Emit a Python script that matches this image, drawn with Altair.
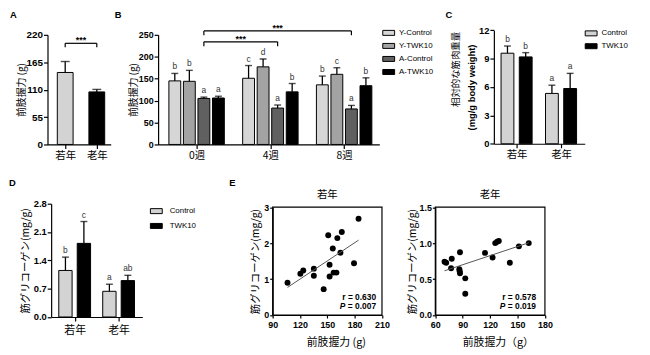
import altair as alt
import pandas as pd

W, H = 642, 347
NUM = "Liberation Sans"
CJK = "Noto Sans CJK JP"

# ---------------- data ----------------
a_groups = ["若年", "老年"]
a_mean = [144.5, 105.5]
a_sd = [22.0, 5.0]
a_colors = ["#d3d3d3", "#000000"]
a_sig_label = "***"
a_sig_y = 203
a_sig_drop = 8

b_weeks = ["0週", "4週", "8週"]
b_series = ["Y-Control", "Y-TWK10", "A-Control", "A-TWK10"]
b_colors = ["#d6d6d6", "#a3a3a3", "#606060", "#000000"]
b_mean = {
    "Y-Control": [145, 151, 136],
    "Y-TWK10": [144, 177, 160],
    "A-Control": [105, 83, 81],
    "A-TWK10": [106, 120, 134],
}
b_sd = {
    "Y-Control": [17, 29, 20],
    "Y-TWK10": [25, 18, 15],
    "A-Control": [3, 7, 8],
    "A-TWK10": [4, 19, 18],
}
b_letters = {
    "Y-Control": ["b", "c", "b"],
    "Y-TWK10": ["b", "d", "c"],
    "A-Control": ["a", "a", "a"],
    "A-TWK10": ["a", "b", "b"],
}
b_sig_series = "A-Control"
b_sig_from = ["0週", "0週"]
b_sig_to = ["4週", "8週"]
b_sig_y = [234, 259]
b_sig_drop = 10

c_groups = ["若年", "老年"]
c_series = ["Control", "TWK10"]
c_colors = ["#d3d3d3", "#000000"]
c_mean = {"Control": [9.57, 5.32], "TWK10": [9.18, 5.84]}
c_sd = {"Control": [0.76, 0.87], "TWK10": [0.45, 1.60]}
c_letters = {"Control": ["b", "a"], "TWK10": ["b", "a"]}

d_groups = ["若年", "老年"]
d_series = ["Control", "TWK10"]
d_colors = ["#d3d3d3", "#000000"]
d_mean = {"Control": [1.15, 0.635], "TWK10": [1.82, 0.90]}
d_sd = {"Control": [0.33, 0.175], "TWK10": [0.54, 0.13]}
d_letters = {"Control": ["b", "a"], "TWK10": ["c", "ab"]}

e_titles = ["若年", "老年"]
e_young_grip = [106.3, 120.4, 123.6, 135.2, 135.2, 146.0, 151.0, 152.5, 152.5,
                156.0, 156.9, 160.0, 161.0, 164.4, 165.9, 179.3, 184.3]
e_young_gly = [0.90, 1.15, 1.24, 1.29, 1.09, 0.72, 2.22, 1.40, 1.07,
               1.85, 1.18, 1.18, 2.14, 1.73, 2.31, 1.44, 2.68]
e_old_grip = [70.1, 71.9, 78.0, 77.3, 87.0, 86.3, 87.0, 86.7, 92.8, 92.8,
              114.4, 122.7, 125.6, 127.7, 129.5, 141.6, 151.5, 162.3]
e_old_gly = [0.741, 0.727, 0.782, 0.65, 0.873, 0.636, 0.58, 0.61, 0.51, 0.295,
             0.864, 0.80, 1.00, 1.018, 1.03, 0.727, 0.955, 1.00]
e_r = ["0.630", "0.578"]
e_p = ["0.007", "0.019"]


# ---------------- helpers ----------------
def y_axis(x_px, values, fmt, title, pad, fs=10, tfs=10, tfont=CJK, tweight="normal"):
    return alt.Axis(orient="left", offset=-x_px, values=values, format=fmt, title=title,
                    grid=False, domainColor="black", domainWidth=1.2, tickColor="black",
                    tickWidth=1.2, tickSize=4, labelColor="black", labelFont=NUM,
                    labelFontWeight="bold", labelFontSize=fs, labelPadding=1,
                    titleFont=tfont, titleFontWeight=tweight, titleFontSize=tfs,
                    titleColor="black", titlePadding=pad, minExtent=0, maxExtent=0)


def x_axis_cat(y_px, labels, fs=10.5, lpad=2):
    expr = "[" + ",".join("'" + l + "'" for l in labels) + "][round(datum.value)]"
    return alt.Axis(orient="bottom", offset=-(H - y_px), values=list(range(len(labels))),
                    labelExpr=expr, title=None, grid=False, domainColor="black",
                    domainWidth=1.2, tickColor="black", tickWidth=1.2, tickSize=4,
                    labelColor="black", labelFont=CJK, labelFontSize=fs, labelAngle=0,
                    labelPadding=lpad, labelFlush=False)


def lin(domain, rng):
    return alt.Scale(domain=domain, range=rng, nice=False, zero=False, padding=0)


def bar_frame(groups, series, means, sds, letters, step):
    rows = []
    n = len(series)
    for j, s in enumerate(series):
        for i, g in enumerate(groups):
            m = means[s][i]
            rows.append(dict(group=g, series=s, pos=i + (j - (n - 1) / 2) * step,
                             mean=m, top=m + sds[s][i], letter=letters[s][i]))
    return pd.DataFrame(rows)


def bar_panel(df, xs, ys, xax, yax, size, cap, fill, lfs=8.5):
    x = alt.X("pos:Q", scale=xs, axis=None)
    bars = alt.Chart(df).mark_bar(size=size, stroke="black", strokeWidth=1,
                                  orient="vertical").encode(
        x=alt.X("pos:Q", scale=xs, axis=xax),
        y=alt.Y("mean:Q", scale=ys, axis=yax),
        fill=fill)
    err = alt.Chart(df).mark_rule(color="black", strokeWidth=1.3).encode(
        x=x, y=alt.Y("mean:Q", scale=ys, axis=None), y2="top:Q")
    caps = alt.Chart(df).mark_tick(orient="horizontal", size=cap, thickness=1.4,
                                   color="black").encode(
        x=x, y=alt.Y("top:Q", scale=ys, axis=None))
    layers = [bars, err, caps]
    if "letter" in df.columns:
        txt = alt.Chart(df).mark_text(baseline="bottom", dy=-2, fontSize=lfs, font=NUM,
                                      color="#333333").encode(
            x=x, y=alt.Y("top:Q", scale=ys, axis=None), text="letter:N")
        layers.append(txt)
    return layers


def bracket(sig, xs, ys, fs=9):
    x = alt.X("x1:Q", scale=xs, axis=None)
    h = alt.Chart(sig).mark_rule(color="black", strokeWidth=1.2).encode(
        x=x, x2="x2:Q", y=alt.Y("y:Q", scale=ys, axis=None))
    l = alt.Chart(sig).mark_rule(color="black", strokeWidth=1.2).encode(
        x=x, y=alt.Y("y:Q", scale=ys, axis=None), y2="yd:Q")
    r = alt.Chart(sig).mark_rule(color="black", strokeWidth=1.2).encode(
        x=alt.X("x2:Q", scale=xs, axis=None), y=alt.Y("y:Q", scale=ys, axis=None), y2="yd:Q")
    t = alt.Chart(sig).mark_text(baseline="alphabetic", dy=0, fontSize=fs, font=NUM,
                                 fontWeight="bold", color="black").encode(
        x=alt.X("xm:Q", scale=xs, axis=None), y=alt.Y("y:Q", scale=ys, axis=None),
        text="label:N")
    return [h, l, r, t]


RECT = "M-1,-0.42H1V0.42H-1Z"


def legend(lx, ly, rowpad, loff=4, fs=8):
    return alt.Legend(orient="none", legendX=lx, legendY=ly, title=None, symbolType=RECT,
                      symbolSize=144, symbolStrokeColor="black", symbolStrokeWidth=1,
                      labelFont=NUM, labelFontSize=fs, labelColor="black",
                      rowPadding=rowpad, labelOffset=loff, padding=0)


# ---------------- Panel A ----------------
a_df = pd.DataFrame(dict(group=a_groups, pos=list(range(len(a_groups))), mean=a_mean,
                         top=[m + s for m, s in zip(a_mean, a_sd)]))
axs = lin([-0.56, 1.44], [40, 104])
ays = lin([0, 220], [136, 25])
a_layers = bar_panel(
    a_df, axs, ays, x_axis_cat(136, a_groups),
    y_axis(40, [0, 55, 110, 165, 220], "d", "前肢握力 (g)", 21, fs=10),
    16, 9, alt.Fill("group:N", scale=alt.Scale(domain=a_groups, range=a_colors), legend=None))
a_sig = pd.DataFrame(dict(x1=[0], x2=[1], xm=[0.5], y=[a_sig_y], yd=[a_sig_y - a_sig_drop],
                          label=[a_sig_label]))
panelA = a_layers + bracket(a_sig, axs, ays)

# ---------------- Panel B ----------------
b_step = 0.197
b_df = bar_frame(b_weeks, b_series, b_mean, b_sd, b_letters, b_step)
bxs = lin([-0.522, 2.477], [152, 376])
bys = lin([0, 250], [136, 25])
b_layers = bar_panel(
    b_df, bxs, bys, x_axis_cat(136, b_weeks),
    y_axis(152, [0, 50, 100, 150, 200, 250], "d", "前肢握力 (g)", 20, fs=9),
    12, 7, alt.Fill("series:N", scale=alt.Scale(domain=b_series, range=b_colors),
                    legend=legend(379, 16.5, 1.2)))
jA = b_series.index(b_sig_series)
off = (jA - (len(b_series) - 1) / 2) * b_step
x1 = [b_weeks.index(w) + off for w in b_sig_from]
x2 = [b_weeks.index(w) + off for w in b_sig_to]
b_sig = pd.DataFrame(dict(x1=x1, x2=x2, xm=[(a + b) / 2 for a, b in zip(x1, x2)],
                          y=b_sig_y, yd=[v - b_sig_drop for v in b_sig_y],
                          label=["***", "***"]))
panelB = b_layers + bracket(b_sig, bxs, bys)

# ---------------- Panel C ----------------
c_df = bar_frame(c_groups, c_series, c_mean, c_sd, c_letters, 0.41)
cxs = lin([-0.511, 1.533], [492, 584])
cys = lin([0, 12], [135.3, 20.3])
c_layers = bar_panel(
    c_df, cxs, cys, x_axis_cat(135.3, c_groups),
    y_axis(492, [0, 3, 6, 9, 12], "d", "(mg/g body weight)", 18, fs=9.5, tfs=9.5,
           tfont=NUM, tweight="bold"),
    13, 7, alt.Fill("series:N", scale=alt.Scale(domain=c_series, range=c_colors),
                    legend=legend(584, 17, 1.0)))
c_title1 = alt.Chart(pd.DataFrame({"t": ["相対的な筋肉重量"]})).mark_text(
    angle=270, font=CJK, fontSize=9.5, color="black", align="center", baseline="middle").encode(
    x=alt.value(454), y=alt.value(60), text="t:N")
panelC = c_layers + [c_title1]

# ---------------- Panel D ----------------
d_df = bar_frame(d_groups, d_series, d_mean, d_sd, d_letters, 0.42)
dxs = lin([-0.535, 1.539], [43.7, 136])
dys = lin([0, 2.8], [310.7, 196])
panelD = bar_panel(
    d_df, dxs, dys, x_axis_cat(310.7, d_groups, fs=11, lpad=4),
    y_axis(43.7, [0, 0.7, 1.4, 2.1, 2.8], ".1f", "筋グリコーゲン(mg/g)", 21, fs=9.5, tfs=10.5),
    13.5, 7, alt.Fill("series:N", scale=alt.Scale(domain=d_series, range=d_colors),
                      legend=legend(143.7, 197, 3.0, loff=7)))


# ---------------- Panel E ----------------
def scatter(grip, gly, xdom, xr, ydom, yr, xticks, yticks, yfmt, title, xtitle, title_x,
            ypad, r, p, stat_x):
    df = pd.DataFrame(dict(grip=grip, gly=gly))
    xs = lin(xdom, xr)
    ys = lin(ydom, yr)
    xax = alt.Axis(orient="bottom", offset=-(H - yr[0]), values=xticks, title=xtitle,
                   grid=False, domainColor="black", domainWidth=1.2, tickColor="black",
                   tickWidth=1.2, tickSize=3, labelColor="black", labelFont=NUM,
                   labelFontWeight="bold", labelFontSize=9, labelPadding=3,
                   labelFlush=False, titleFont=CJK, titleFontWeight="normal",
                   titleFontSize=11, titleColor="black", titlePadding=22, titleX=title_x,
                   minExtent=0, maxExtent=0)
    yax = alt.Axis(orient="left", offset=-xr[0], values=yticks, format=yfmt,
                   title="筋グリコーゲン(mg/g)",
                   grid=False, domainColor="black", domainWidth=1.2, tickColor="black",
                   tickWidth=1.2, tickSize=3, labelColor="black", labelFont=NUM,
                   labelFontWeight="bold", labelFontSize=9, labelPadding=1,
                   titleFont=CJK, titleFontWeight="normal", titleFontSize=10.5,
                   titleColor="black", titlePadding=ypad, minExtent=0, maxExtent=0)
    frame_df = pd.DataFrame(dict(x0=[xdom[0]], x1=[xdom[1]], y0=[ydom[0]], y1=[ydom[1]]))
    frame = alt.Chart(frame_df).mark_rect(fill=None, stroke="black", strokeWidth=1.2).encode(
        x=alt.X("x0:Q", scale=xs, axis=None), x2="x1:Q",
        y=alt.Y("y0:Q", scale=ys, axis=None), y2="y1:Q")
    pts = alt.Chart(df).mark_circle(size=36, color="black", opacity=1).encode(
        x=alt.X("grip:Q", scale=xs, axis=xax), y=alt.Y("gly:Q", scale=ys, axis=yax))
    fit = alt.Chart(df).transform_regression("grip", "gly").mark_line(
        color="#555555", strokeWidth=1).encode(
        x=alt.X("grip:Q", scale=xs, axis=None), y=alt.Y("gly:Q", scale=ys, axis=None))
    tdf = pd.DataFrame(dict(t=[title], x=[(xdom[0] + xdom[1]) / 2], y=[ydom[1]]))
    ttl = alt.Chart(tdf).mark_text(font=CJK, fontSize=10.5, color="black", baseline="middle",
                                   dy=-12).encode(
        x=alt.X("x:Q", scale=xs, axis=None), y=alt.Y("y:Q", scale=ys, axis=None), text="t:N")
    sdf = pd.DataFrame(dict(r=["r = " + r], p=[" = " + p], P=["P"]))
    st_r = alt.Chart(sdf).mark_text(font=NUM, fontWeight="bold", fontSize=8.5, align="right",
                                    baseline="middle", color="black").encode(
        x=alt.value(stat_x), y=alt.value(291), text="r:N")
    st_p = alt.Chart(sdf).mark_text(font=NUM, fontWeight="bold", fontSize=8.5, align="right",
                                    baseline="middle", color="black").encode(
        x=alt.value(stat_x), y=alt.value(300), text="p:N")
    st_P = alt.Chart(sdf).mark_text(font=NUM, fontWeight="bold", fontStyle="italic",
                                    fontSize=8.5, align="right", baseline="middle",
                                    color="black", dx=-31).encode(
        x=alt.value(stat_x), y=alt.value(300), text="P:N")
    return [pts, frame, fit, ttl, st_r, st_p, st_P]


panelE1 = scatter(e_young_grip, e_young_gly, [90, 210], [268, 378.7], [0, 3], [308.7, 199.5],
                  [90, 120, 150, 180, 210], [0, 1, 2, 3], "d", e_titles[0], "前肢握力 (g)",
                  332, 12.7, e_r[0], e_p[0], 372.7)
panelE2 = scatter(e_old_grip, e_old_gly, [60, 180], [432.7, 543.7], [0, 1.5], [308.7, 199.5],
                  [60, 90, 120, 150, 180], [0, 0.5, 1.0, 1.5], ".1f", e_titles[1],
                  "前肢握力（g）", 496, 18.4, e_r[1], e_p[1], 534.7)

# ---------------- panel letters ----------------
letters = ["A", "B", "C", "D", "E"]
letter_pos = [(2, 5), (108, 5), (443, 5), (1, 175.5), (224, 175.5)]
letter_layers = [
    alt.Chart(pd.DataFrame({"t": [t]})).mark_text(
        align="left", baseline="middle", font=NUM, fontWeight="bold", fontSize=9.5,
        color="black").encode(x=alt.value(px), y=alt.value(py), text="t:N")
    for t, (px, py) in zip(letters, letter_pos)
]

all_layers = panelA + panelB + panelC + panelD + panelE1 + panelE2 + letter_layers
chart = alt.layer(*all_layers).resolve_scale(
    x="independent", y="independent", fill="independent"
).resolve_axis(x="independent", y="independent").properties(
    width=W, height=H, padding=0, autosize="none", background="white"
).configure_view(stroke=None)

chart.save("out.html", embed_options={"renderer": "svg", "actions": False})
